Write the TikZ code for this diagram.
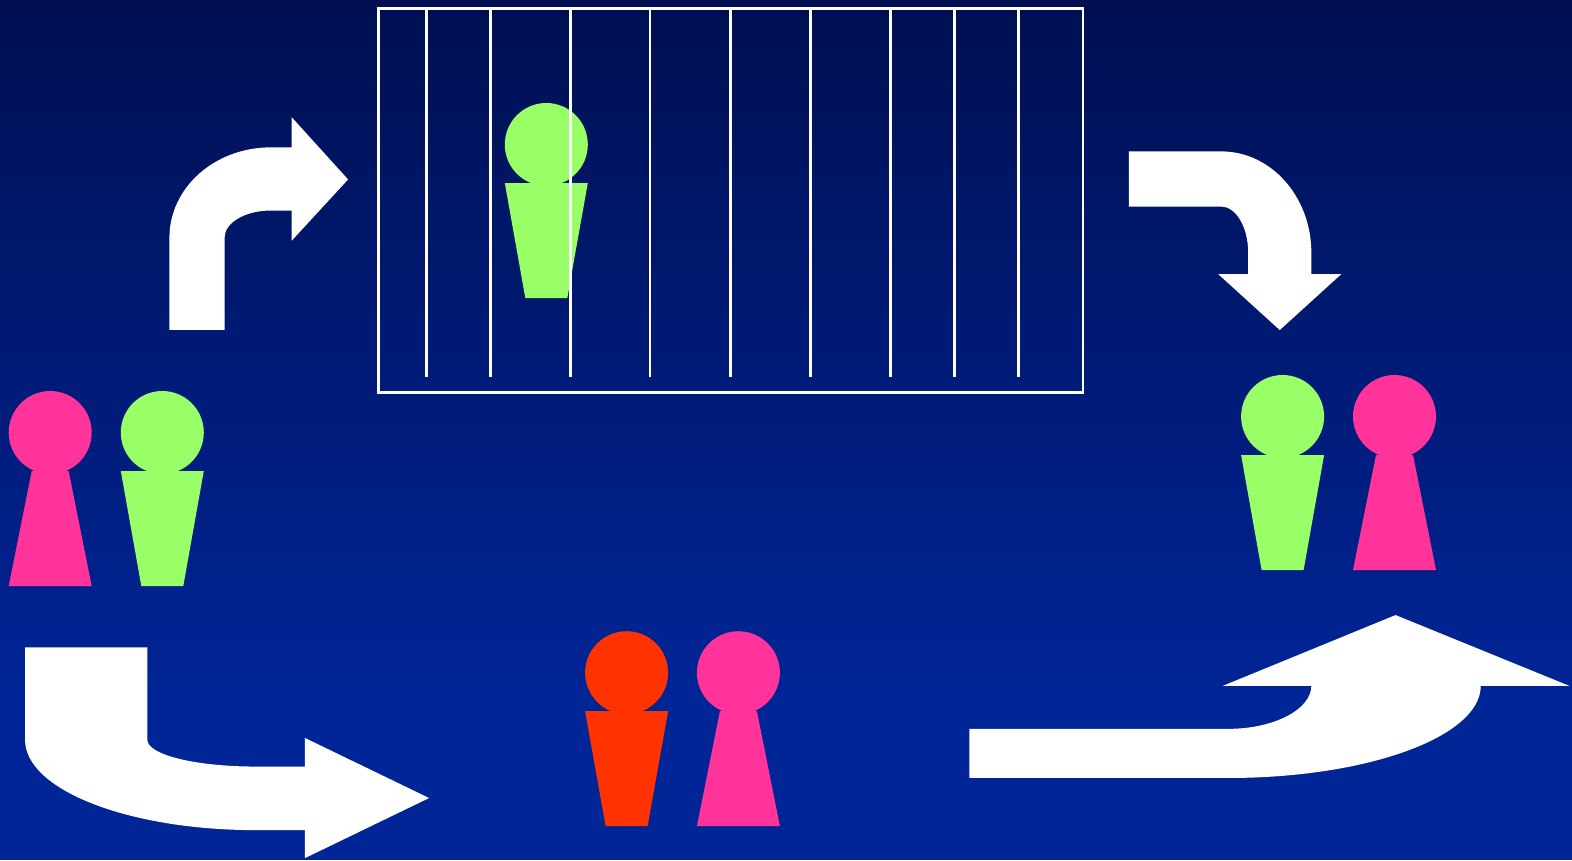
\documentclass[tikz,border=0pt]{standalone}
\definecolor{bgtop}{RGB}{0,15,82}
\definecolor{bgbot}{RGB}{0,37,150}
\definecolor{figgreen}{RGB}{153,255,102}
\definecolor{figpink}{RGB}{255,51,153}
\definecolor{figorange}{RGB}{255,51,0}
\tikzset{
  bgshade/.style={top color=bgtop,bottom color=bgbot,shading angle=0},
  bigarrow/.style={fill=white,draw=none},
  cage/.style={draw=white,line width=2.8pt},
  bar/.style={draw=white,line width=2.8pt},
  widetop/.pic={
    \fill[pic actions] (0,0) circle (41.5);
    \fill[pic actions] (-41.5,38.5) -- (41.5,38.5) -- (21,153.5) -- (-21,153.5) -- cycle;
  },
  widebase/.pic={
    \fill[pic actions] (0,0) circle (41.5);
    \fill[pic actions] (-18.5,38.5) -- (18.5,38.5) -- (41.5,153.5) -- (-41.5,153.5) -- cycle;
  }
}
\begin{document}
\begin{tikzpicture}[x=1pt,y=-1pt]
\useasboundingbox (0,0) rectangle (1572,860);
\fill[bgbot] (0,680) rectangle (1572,860);
\shade[bgshade] (0,0) rectangle (1572,690);
% the people
\pic[fill=figpink] at (50.2,432.5) {widebase};
\pic[fill=figgreen] at (162.3,432.5) {widetop};
\pic[fill=figgreen] at (1282.6,416.5) {widetop};
\pic[fill=figpink] at (1394.5,416.5) {widebase};
\pic[fill=figorange] at (626.6,672.7) {widetop};
\pic[fill=figpink] at (738.4,672.7) {widebase};
\pic[fill=figgreen] at (546.3,144.5) {widetop};
% the cage
\draw[cage] (378.5,8.5) rectangle (1083,392.5);
\foreach \bx in {426.3,490.3,570.5,650,730.2,810.2,890.2,954.5,1018.5}
  \draw[bar] (\bx,9) -- (\bx,376.5);
% the arrows
\begin{scope}[scale=1.00255]
\fill[bigarrow] (169,329) -- (169,237)
  .. controls (169,187.3) and (214.2,147) .. (270,147) -- (291,147) -- (291,117) -- (347.2,179) -- (291,240) -- (291,210) -- (270,210)
  .. controls (244.6,210) and (224,222.1) .. (224,237) -- (224,329) -- cycle;
\fill[bigarrow] (1126,151) -- (1218,151)
  .. controls (1267.7,151) and (1308,196.2) .. (1308,252) -- (1308,273.3) -- (1338,273.3) -- (1276.5,329.2) -- (1215,273.3) -- (1245,273.3) -- (1245,252)
  .. controls (1245,226.6) and (1232.9,206) .. (1218,206) -- (1126,206) -- cycle;
\fill[bigarrow] (25,645.8) -- (147,645.8) -- (147,738)
  .. controls (147,752.9) and (195.4,764.6) .. (255,764.6) -- (304,764.6) -- (304,736) -- (428,796) -- (304,856) -- (304,828) -- (255,828)
  .. controls (128,828) and (25,787.7) .. (25,738) -- cycle;
\fill[bigarrow] (967,727) -- (1225,727)
  .. controls (1270.8,727) and (1308,707.7) .. (1308,684) -- (1220,684) -- (1392,613.5) -- (1565,684) -- (1477,684)
  .. controls (1477,734.8) and (1364.2,776) .. (1225,776) -- (967,776) -- cycle;
\end{scope}
\end{tikzpicture}
\end{document}
